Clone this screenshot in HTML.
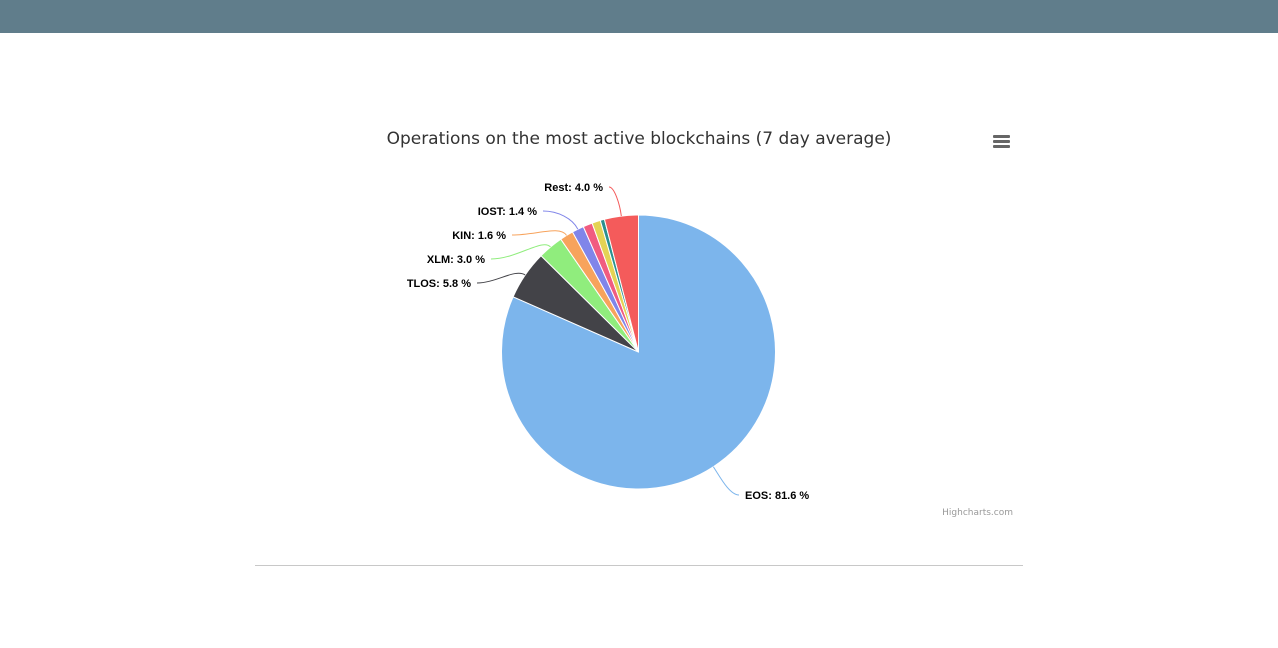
<!DOCTYPE html>
<html><head><meta charset="utf-8"><style>
html,body{margin:0;padding:0;width:1278px;height:648px;background:#fff;overflow:hidden;font-family:"Liberation Sans","DejaVu Sans",sans-serif}
#hdr{position:absolute;left:0;top:0;width:1278px;height:33px;background:#607d8b}
#rule{position:absolute;left:255px;top:565px;width:768px;height:1px;background:#c8c8c8}
svg{position:absolute;left:0;top:0}
</style></head><body>
<div id="hdr"></div>
<div id="rule"></div>
<svg id="chart" width="1278" height="648">
<text x="639" y="144" text-anchor="middle" font-size="17" fill="#333" font-family="DejaVu Sans, sans-serif">Operations on the most active blockchains (7 day average)</text>
<g fill="#666">
<rect x="993" y="135" width="17" height="3" rx="1"/><rect x="993" y="140" width="17" height="3" rx="1"/><rect x="993" y="145" width="17" height="3" rx="1"/>
</g>
<text x="1013" y="515" text-anchor="end" font-size="9" fill="#999" font-family="DejaVu Sans, sans-serif">Highcharts.com</text>
</svg>
<script>
const categories=["EOS","TLOS","XLM","KIN","IOST","P6","P7","P8","Rest"];
const values=[81.6,5.8,3.0,1.6,1.4,1.1,1.0,0.5,4.0];
const showLabel=[true,true,true,true,true,false,false,false,true];
const colors=["#7cb5ec","#434348","#90ed7d","#f7a35c","#8085e9","#f15c80","#e4d354","#2b908f","#f45b5b"];
const svg=document.getElementById('chart');
const NS="http://www.w3.org/2000/svg";
const cx=638.5,cy=352,R=137;
const total=values.reduce((a,b)=>a+b,0);
function pt(a,r){return [cx+r*Math.sin(a),cy-r*Math.cos(a)];}
const leftX=[471,485,506,537,603], leftY=[287,263,239,215,191];
let acc=0,li=0;
values.forEach((v,i)=>{
  const a0=acc/total*2*Math.PI;acc+=v;const a1=acc/total*2*Math.PI;
  const p0=pt(a0,R),p1=pt(a1,R);const large=(a1-a0)>Math.PI?1:0;
  const p=document.createElementNS(NS,'path');
  p.setAttribute('d',`M${cx},${cy}L${p0[0]},${p0[1]}A${R},${R} 0 ${large} 1 ${p1[0]},${p1[1]}Z`);
  p.setAttribute('fill',colors[i]);p.setAttribute('stroke','#fff');p.setAttribute('stroke-width','1');
  
  
  svg.appendChild(p);
  if(!showLabel[i])return;
  const am=(a0+a1)/2;const e=pt(am,R);const b=pt(am,R+12);
  const right=Math.sin(am)>0;
  let lx,ly;
  if(right){lx=745;ly=499;}else{lx=leftX[li];ly=leftY[li];li++;}
  const ex=right?lx-6:lx+6;
  const line=document.createElementNS(NS,'path');
  line.setAttribute('d',`M${ex},${ly-4}C${(ex+b[0])/2},${ly-4} ${b[0]},${b[1]} ${e[0]},${e[1]}`);
  line.setAttribute('fill','none');line.setAttribute('stroke',colors[i]);line.setAttribute('stroke-width','1');
  
  
  svg.appendChild(line);
  const t=document.createElementNS(NS,'text');
  t.setAttribute('x',lx);t.setAttribute('y',ly);
  t.setAttribute('text-anchor',right?'start':'end');
  t.setAttribute('font-size','11');t.setAttribute('font-weight','bold');t.setAttribute('fill','#000');
  
  
  t.textContent=categories[i]+': '+v.toFixed(1)+' %';
  svg.appendChild(t);
});
</script>
</body></html>
